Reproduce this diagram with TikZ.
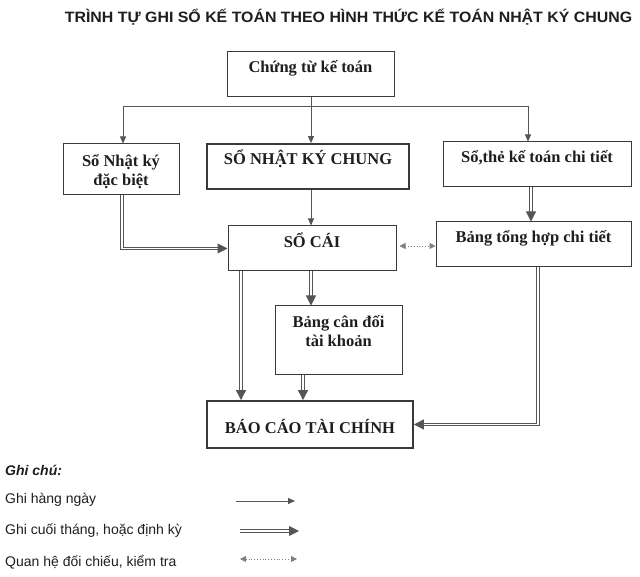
\documentclass[tikz,border=0pt]{standalone}
\usepackage{fontspec}
\setmainfont{Liberation Serif}
\newfontfamily\legfont{Liberation Sans}
\usetikzlibrary{arrows.meta,calc}
\definecolor{boxc}{HTML}{3A3A3A}
\definecolor{linec}{HTML}{555555}
\definecolor{txtc}{HTML}{1E1E1E}
\tikzset{
  box/.style={draw=boxc, line width=1pt, inner xsep=0pt, inner ysep=0pt,
    text=txtc, font=\bfseries\fontsize{16.5}{19}\selectfont},
  boxthick/.style={box, line width=1.8pt},
  dayline/.style={draw=linec, line width=0.9pt, -{Triangle[length=7pt,width=6pt]}},
  plainline/.style={draw=linec, line width=0.9pt},
  monthline/.style={draw=linec, line width=1pt, double=white, double distance=1.8pt,
    -{Triangle[length=10pt,width=10pt]}},
  checkline/.style={draw=linec!75, line width=0.8pt, dotted,
    {Triangle[length=6pt,width=6pt]}-{Triangle[length=6pt,width=6pt]}},
  legtext/.style={text=txtc, anchor=west, inner sep=0pt, font=\legfont\fontsize{14}{16}\selectfont}
}
\begin{document}
\begin{tikzpicture}[x=1pt,y=-1pt]
\useasboundingbox (0,0) rectangle (640,577);
% title
\node[text=txtc, font=\legfont\bfseries\fontsize{15}{17}\selectfont, inner sep=0pt] (title) at (348.5,17) {\scalebox{1.06}[1]{TRÌNH TỰ GHI SỔ KẾ TOÁN THEO HÌNH THỨC KẾ TOÁN NHẬT KÝ CHUNG}};
% boxes
\node[box, minimum width=167pt, text height=21pt, text depth=24pt] (ct) at (310.5,74.5) {Chứng từ kế toán};
\node[box, minimum width=116pt, text height=23pt, text depth=28pt] (snk) at (121,169.5)
  {\begin{tabular}[t]{@{}c@{}}Sổ Nhật ký\\đặc biệt\end{tabular}};
\node[boxthick, minimum width=202pt, text height=21pt, text depth=24pt] (snkc) at (308,166.5) {SỔ NHẬT KÝ CHUNG};
\node[box, minimum width=188pt, text height=21pt, text depth=24pt] (stk) at (537,164.5) {Sổ,thẻ kế toán chi tiết};
\node[box, minimum width=168pt, text height=22pt, text depth=23pt] (sc) at (312,248.5) {SỔ CÁI};
\node[box, minimum width=195pt, text height=21pt, text depth=24pt] (bth) at (533.5,244.5) {Bảng tổng hợp chi tiết};
\node[box, minimum width=127pt, text height=22pt, text depth=46pt] (bcd) at (338.5,340)
  {\begin{tabular}[t]{@{}c@{}}Bảng cân đối\\tài khoản\end{tabular}};
\node[boxthick, minimum width=206pt, text height=32pt, text depth=15pt] (bctc) at (310,424.5) {BÁO CÁO TÀI CHÍNH};
% daily connectors
\coordinate (hl) at (123,106);
\coordinate (hr) at (528,106);
\draw[plainline] (hl) -- (hr);
\draw[dayline] (hl) -- (hl |- snk.north);
\draw[dayline] (hr) -- (hr |- stk.north);
\draw[dayline] (ct.south -| 311,0) -- (snkc.north -| 311,0);
\draw[dayline] (snkc.south -| 311,0) -- (sc.north -| 311,0);
% periodic connectors
\draw[monthline] (snk.south -| 122,0) |- (sc.west);
\draw[monthline] (stk.south -| 531,0) -- (bth.north -| 531,0);
\draw[monthline] (sc.south -| 241,0) -- (bctc.north -| 241,0);
\draw[monthline] (sc.south -| 311,0) -- (bcd.north -| 311,0);
\draw[monthline] (bcd.south -| 303,0) -- (bctc.north -| 303,0);
\draw[monthline] (bth.south -| 538,0) |- (bctc.east);
% check connector
\draw[checkline, shorten <=3pt] (sc.east |- 0,246) -- (bth.west |- 0,246);
% legend
\node[legtext, font=\legfont\bfseries\itshape\fontsize{14}{16}\selectfont] (leg0) at (5,470) {Ghi chú:};
\node[legtext] (leg1) at (5,500) {Ghi hàng ngày};
\node[legtext] (leg2) at (5,531) {Ghi cuối tháng, hoặc định kỳ};
\node[legtext] (leg3) at (5,562) {Quan hệ đối chiếu, kiểm tra};
\coordinate (la1) at (236,501); \coordinate (lb1) at (295,501);
\coordinate (la2) at (240,531); \coordinate (lb2) at (299,531);
\coordinate (la3) at (240,559); \coordinate (lb3) at (297,559);
\draw[dayline] (la1) -- (lb1);
\draw[monthline] (la2) -- (lb2);
\draw[checkline] (la3) -- (lb3);
\end{tikzpicture}
\end{document}
